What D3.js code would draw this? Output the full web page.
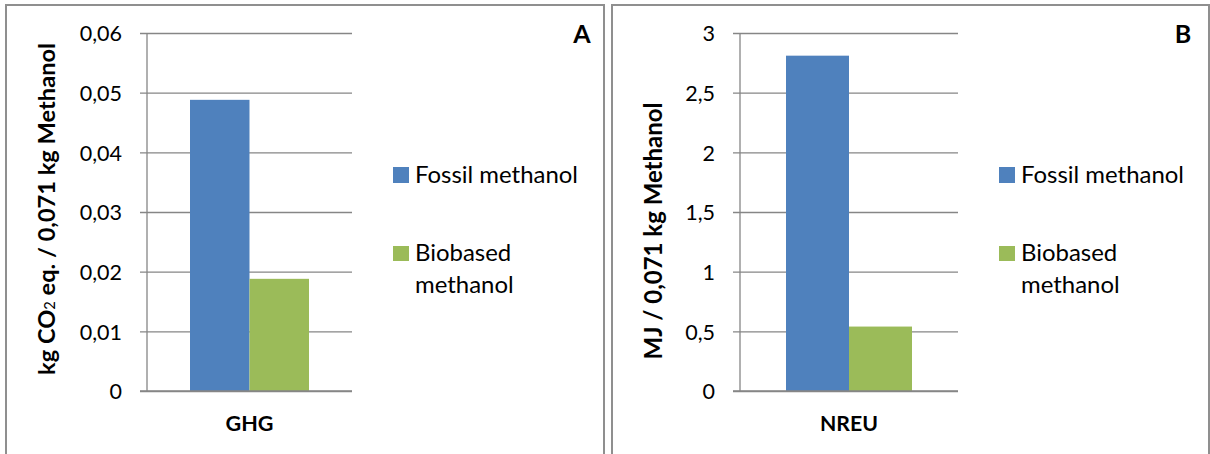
<!DOCTYPE html>
<html>
<head>
<meta charset="utf-8">
<script src="https://cdn.jsdelivr.net/npm/d3@7"></script>
<style>
  html, body { margin: 0; padding: 0; background: #fff; }
  svg { display: block; }
  text { font-family: Lato, "Open Sans", sans-serif; fill: #000; }
</style>
</head>
<body>
<svg id="chart" width="1210" height="454"></svg>
<script>
// Series names and colours
const seriesNames = ["Fossil methanol", "Biobased methanol"];
const seriesColors = ["#4F81BD", "#9BBB59"];

// Panel A: greenhouse gas emissions
const ghgCategory = ["GHG"];
const ghgValues = [0.0488, 0.0188];
const ghgTicks = [0, 0.01, 0.02, 0.03, 0.04, 0.05, 0.06];
const ghgTickLabels = ["0", "0,01", "0,02", "0,03", "0,04", "0,05", "0,06"];

// Panel B: non-renewable energy use
const nreuCategory = ["NREU"];
const nreuValues = [2.81, 0.54];
const nreuTicks = [0, 0.5, 1, 1.5, 2, 2.5, 3];
const nreuTickLabels = ["0", "0,5", "1", "1,5", "2", "2,5", "3"];

const svg = d3.select("#chart");

// shrink/grow a text element's font so it spans the given length
function fitLength(sel, target, base) {
  sel.attr("font-size", base);
  const len = sel.node().getComputedTextLength();
  if (len > 0) sel.attr("font-size", base * target / len);
}

function panel(cfg) {
  const g = svg.append("g");

  // frame around the panel (open at the bottom)
  g.append("path")
    .attr("d", `M${cfg.frame[0]},454 V${cfg.frame[1]} H${cfg.frame[2]} V454`)
    .attr("fill", "none")
    .attr("stroke", "#8f8f8f")
    .attr("stroke-width", 2);

  const y = d3.scaleLinear().domain([0, cfg.max]).range([cfg.bottom, cfg.top]);
  const x = d3.scaleBand().domain(cfg.category).range([cfg.left, cfg.right]).paddingInner(0).paddingOuter(0);

  // gridlines + tick marks
  const yAxis = d3.axisLeft(y)
    .tickValues(cfg.ticks)
    .tickSize(-(cfg.right - cfg.left))
    .tickFormat((d, i) => cfg.tickLabels[i]);
  const ax = g.append("g").attr("transform", `translate(${cfg.left},0)`).call(yAxis);
  ax.select(".domain").remove();
  ax.selectAll(".tick line")
    .attr("x1", -7)
    .attr("stroke", "#868686")
    .attr("stroke-width", 1.3);
  ax.selectAll(".tick text")
    .attr("x", -(cfg.left - cfg.labelRight))
    .attr("dy", "0.36em")
    .attr("font-size", 21.5)
    .attr("font-family", "Lato, 'Open Sans', sans-serif")
    .attr("fill", "#000");

  // bars
  const inner = d3.scaleBand().domain(seriesNames)
    .range([x(cfg.category[0]) + cfg.barInset[0], x(cfg.category[0]) + x.bandwidth() - cfg.barInset[1]]);
  g.append("g").selectAll("rect")
    .data(cfg.values)
    .join("rect")
    .attr("x", (d, i) => inner(seriesNames[i]))
    .attr("width", inner.bandwidth())
    .attr("y", d => y(d))
    .attr("height", d => y(0) - y(d))
    .attr("fill", (d, i) => seriesColors[i]);

  // axis lines
  g.append("line")
    .attr("x1", cfg.left).attr("x2", cfg.left)
    .attr("y1", cfg.top).attr("y2", cfg.bottom)
    .attr("stroke", "#868686").attr("stroke-width", 1.3);
  g.append("line")
    .attr("x1", cfg.left - 7).attr("x2", cfg.right)
    .attr("y1", cfg.bottom).attr("y2", cfg.bottom)
    .attr("stroke", "#868686").attr("stroke-width", 1.3);

  // category label
  const cat = g.append("text")
    .attr("x", x(cfg.category[0]) + x.bandwidth() / 2 + cfg.catShift)
    .attr("y", 431)
    .attr("text-anchor", "middle")
    .attr("font-weight", "bold")
    .text(cfg.category[0]);
  fitLength(cat, cfg.catWidth, 20);

  // y axis title
  const title = g.append("text")
    .attr("transform", `translate(${cfg.titleX},${cfg.titleY}) rotate(-90)`)
    .attr("text-anchor", "middle")
    .attr("font-weight", "bold")
    .each(function () { cfg.title(d3.select(this)); });
  fitLength(title, cfg.titleLen, 19);

  // panel letter
  g.append("text")
    .attr("x", cfg.letterX).attr("y", 43)
    .attr("text-anchor", "middle")
    .attr("font-size", 25)
    .attr("font-weight", "bold")
    .text(cfg.letter);

  // legend
  const lg = g.append("g").attr("transform", `translate(${cfg.legendX},0)`);
  lg.append("rect").attr("x", 0).attr("y", 167).attr("width", 16).attr("height", 16).attr("fill", seriesColors[0]);
  const t1 = lg.append("text").attr("x", 22).attr("y", 183).text(seriesNames[0]);
  fitLength(t1, 163, 20);
  const fs = +t1.attr("font-size");
  lg.append("rect").attr("x", 0).attr("y", 246).attr("width", 16).attr("height", 15).attr("fill", seriesColors[1]);
  const t2 = lg.append("text").attr("x", 22).attr("y", 261).attr("font-size", fs);
  t2.append("tspan").attr("x", 22).text("Biobased");
  t2.append("tspan").attr("x", 22).attr("dy", 32).text("methanol");
}

panel({
  frame: [6, 5, 604],
  left: 147, right: 352, top: 33, bottom: 391,
  labelRight: 122,
  max: 0.06, ticks: ghgTicks, tickLabels: ghgTickLabels,
  category: ghgCategory, values: ghgValues,
  barInset: [43, 43], catShift: 0, catWidth: 48,
  titleX: 55, titleY: 209, titleLen: 332,
  title: t => {
    t.append("tspan").text("kg CO");
    t.append("tspan").attr("font-size", "0.62em").attr("font-weight", "normal").text("2");
    t.append("tspan").text(" eq. / 0,071 kg Methanol");
  },
  letter: "A", letterX: 582, legendX: 393
});

panel({
  frame: [612, 5, 1209],
  left: 740, right: 958, top: 33, bottom: 391,
  labelRight: 715,
  max: 3, ticks: nreuTicks, tickLabels: nreuTickLabels,
  category: nreuCategory, values: nreuValues,
  barInset: [46, 46], catShift: 0, catWidth: 58,
  titleX: 662, titleY: 231, titleLen: 257,
  title: t => t.text("MJ / 0,071 kg Methanol"),
  letter: "B", letterX: 1183, legendX: 999
});
</script>
</body>
</html>
